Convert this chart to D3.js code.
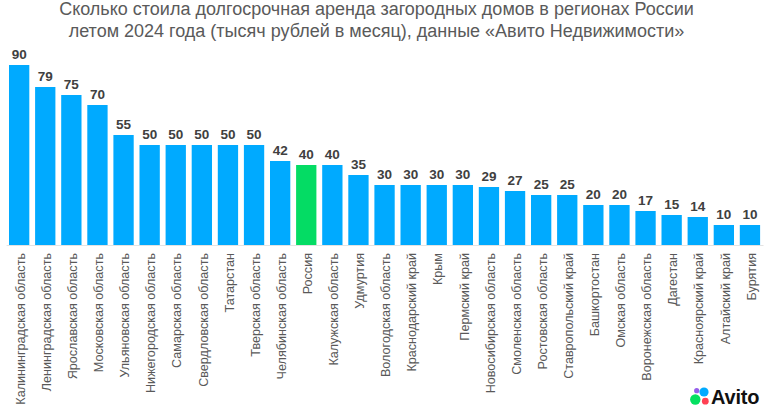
<!DOCTYPE html>
<html>
<head>
<meta charset="utf-8">
<script src="https://cdn.jsdelivr.net/npm/d3@7"></script>
<style>
html, body { margin: 0; padding: 0; background: #fff; }
text { font-family: "Liberation Sans", Arial, sans-serif; }
</style>
</head>
<body>
<div id="chart"></div>
<script>
// значения
var regions = ["Калининградская область", "Ленинградская область", "Ярославская область", "Московская область",
    "Ульяновская область", "Нижегородская область", "Самарская область", "Свердловская область", "Татарстан",
    "Тверская область", "Челябинская область", "Россия", "Калужская область", "Удмуртия", "Вологодская область",
    "Краснодарский край", "Крым", "Пермский край", "Новосибирская область", "Смоленская область",
    "Ростовская область", "Ставропольский край", "Башкортостан", "Омская область", "Воронежская область",
    "Дагестан", "Красноярский край", "Алтайский край", "Бурятия"];
var values = [90, 79, 75, 70, 55, 50, 50, 50, 50, 50, 42, 40, 40, 35, 30, 30, 30, 30, 29, 27, 25, 25, 20, 20, 17, 15, 14, 10, 10];
var titleLines = ["Сколько стоила долгосрочная аренда загородных домов в регионах России",
    "летом 2024 года (тысяч рублей в месяц), данные «Авито Недвижимости»"];
var highlight = "Россия";

var width = 768, height = 412;
var baseY = 245;

var svg = d3.select("#chart").append("svg")
    .attr("width", width)
    .attr("height", height)
    .style("display", "block");

svg.selectAll(".title").data(titleLines).enter().append("text")
    .attr("class", "title")
    .attr("x", 376.5)
    .attr("y", function(d, i) { return 15 + i * 21.5; })
    .attr("text-anchor", "middle")
    .attr("font-size", 18)
    .attr("fill", "#5a5a5a")
    .text(function(d) { return d; });

var x = d3.scaleBand().domain(regions).range([6.1, 763]).paddingInner(0.222).paddingOuter(0.111);
var y = d3.scaleLinear().domain([0, 90]).range([baseY, 65]);

svg.selectAll(".bar").data(regions).enter().append("rect")
    .attr("class", "bar")
    .attr("x", function(d) { return x(d); })
    .attr("width", x.bandwidth())
    .attr("y", function(d, i) { return y(values[i]); })
    .attr("height", function(d, i) { return baseY - y(values[i]); })
    .attr("fill", function(d) { return d == highlight ? "#04dc64" : "#00aaff"; });

svg.selectAll(".val").data(regions).enter().append("text")
    .attr("class", "val")
    .attr("x", function(d) { return x(d) + x.bandwidth() / 2; })
    .attr("y", function(d, i) { return y(values[i]) - 6; })
    .attr("text-anchor", "middle")
    .attr("font-size", 13.5)
    .attr("font-weight", "bold")
    .attr("fill", "#404040")
    .text(function(d, i) { return values[i]; });

// ось снизу
var axis = svg.append("g")
    .attr("transform", "translate(0," + baseY + ")")
    .call(d3.axisBottom(x).tickSize(0));
axis.select(".domain").attr("stroke", "#e3e3e3");
axis.selectAll("text")
    .attr("transform", "rotate(-90)")
    .attr("x", -8)
    .attr("y", 1.3)
    .attr("dy", "0.35em")
    .attr("text-anchor", "end")
    .attr("font-family", "Liberation Sans")
    .attr("font-size", 12.6)
    .attr("fill", "#595959");

// логотип
var logoDots = [[696.7, 390.7, 2.6, "#965eeb"], [704, 392, 4.6, "#00aaff"], [695.3, 399.5, 5.2, "#04e061"], [705.3, 401.2, 3.4, "#ff4053"]];
var logo = svg.append("g");
logo.selectAll("circle").data(logoDots).enter().append("circle")
    .attr("cx", function(d) { return d[0]; })
    .attr("cy", function(d) { return d[1]; })
    .attr("r", function(d) { return d[2]; })
    .attr("fill", function(d) { return d[3]; });
logo.append("text")
    .attr("x", 711)
    .attr("y", 403.5)
    .attr("font-size", 20)
    .attr("font-weight", "bold")
    .attr("letter-spacing", -0.2)
    .attr("fill", "#111")
    .text("Avito");
</script>
</body>
</html>
